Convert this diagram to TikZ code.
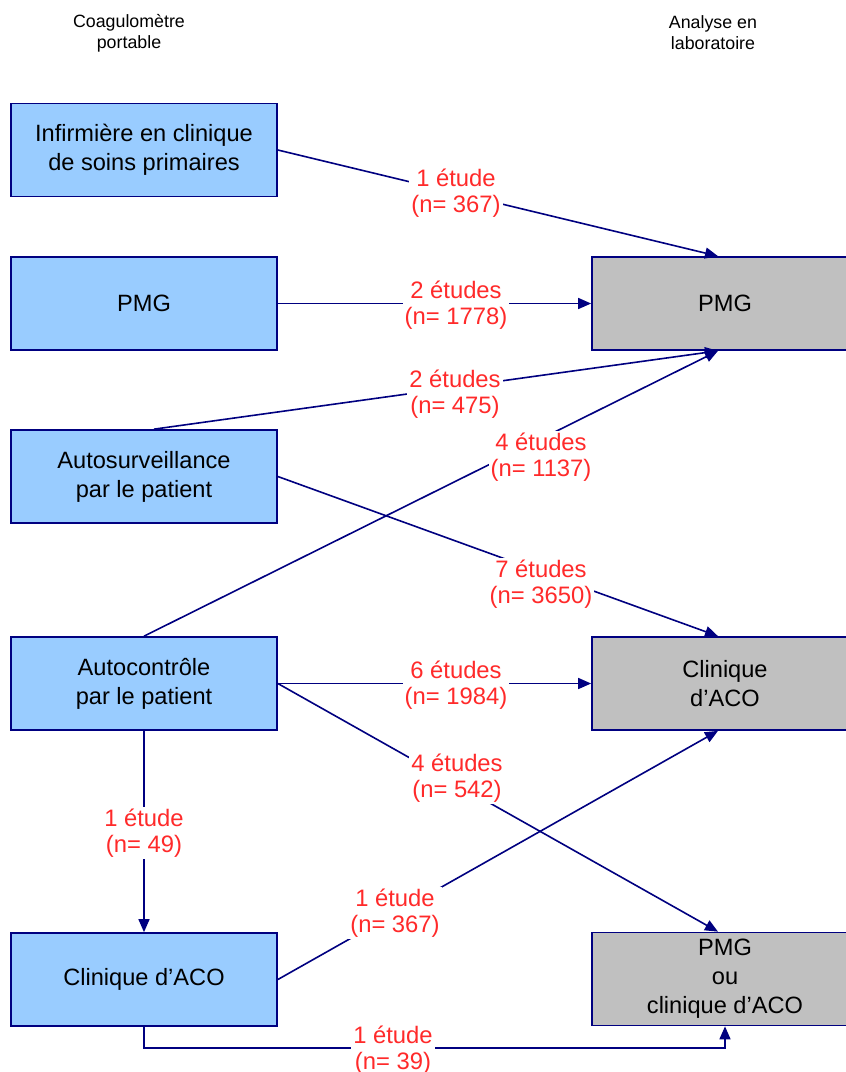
\documentclass[tikz,border=0pt]{standalone}
\usepackage{fontspec}
\setmainfont{Liberation Sans}
\usetikzlibrary{arrows.meta,calc}
\definecolor{navy}{HTML}{000080}
\definecolor{boxblue}{HTML}{99CCFF}
\definecolor{boxgray}{HTML}{C0C0C0}
\definecolor{lblred}{HTML}{FF2A2A}
\begin{document}
\begin{tikzpicture}[x=0.5pt,y=-0.5pt,
  box/.style={draw=navy,line width=0.85pt,minimum width=133pt,minimum height=46.5pt,inner sep=0pt,align=center,font=\fontsize{11.8}{14.5}\selectfont},
  src/.style={box,fill=boxblue},
  dst/.style={box,fill=boxgray},
  conn/.style={draw=navy,line width=0.8pt,-{Triangle[length=6.5pt,width=5.5pt]}},
  lbl/.style={fill=white,text=lblred,align=center,inner sep=1pt,font=\fontsize{11.9}{13.2}\selectfont},
  hdr/.style={align=center,font=\fontsize{8.9}{10.5}\selectfont}]
\clip (0,0) rectangle (846,1072);
\fill[white] (0,0) rectangle (846,1072);
% headers
\node[hdr] (h1) at (129,33) {Coagulomètre\\portable};
\node[hdr] (h2) at (713,33) {Analyse en\\laboratoire};
% left boxes
\node[src] (a) at (144,150) {Infirmière en clinique\\de soins primaires};
\node[src] (b) at (144,303.5) {PMG};
\node[src] (c) at (144,476.5) {Autosurveillance\\par le patient};
\node[src] (d) at (144,683.5) {Autocontrôle\\par le patient};
\node[src] (e) at (144,979.5) {Clinique d’ACO};
% right boxes
\node[dst] (p) at (725,303.5) {PMG};
\node[dst] (q) at (725,683.5) {Clinique\\d’ACO};
\node[dst] (r) at (725,979) {PMG\\ou\\clinique d’ACO};
% connectors
\draw[conn] (a.east) -- ([xshift=-3.5pt]p.north);
\draw[conn] (b.east) -- (p.west);
\draw[conn] ([xshift=5pt]c.north) -- ([xshift=-3.5pt]p.south);
\draw[conn] (d.north) -- ([xshift=-3.5pt]p.south);
\draw[conn] (c.east) -- ([xshift=-3.5pt]q.north);
\draw[conn] (d.east) -- (q.west);
\draw[conn] (d.east) -- ([xshift=-3.5pt]r.north);
\draw[conn] (d.south) -- (e.north);
\draw[conn] (e.east) -- ([xshift=-3.5pt]q.south);
\draw[conn] (e.south) -- ++(0,21) -| (r.south);
% labels
\node[lbl] (l1) at (456,193) {1 étude\\(n= 367)};
\node[lbl] (l2) at (456,305) {2 études\\(n= 1778)};
\node[lbl] (l3) at (455,394) {2 études\\(n= 475)};
\node[lbl] (l4) at (541,457) {4 études\\(n= 1137)};
\node[lbl] (l5) at (541,584) {7 études\\(n= 3650)};
\node[lbl] (l6) at (456,685) {6 études\\(n= 1984)};
\node[lbl] (l7) at (457,778) {4 études\\(n= 542)};
\node[lbl] (l8) at (144,833) {1 étude\\(n= 49)};
\node[lbl] (l9) at (395,913) {1 étude\\(n= 367)};
\node[lbl] (l10) at (393,1050) {1 étude\\(n= 39)};
\end{tikzpicture}
\end{document}
